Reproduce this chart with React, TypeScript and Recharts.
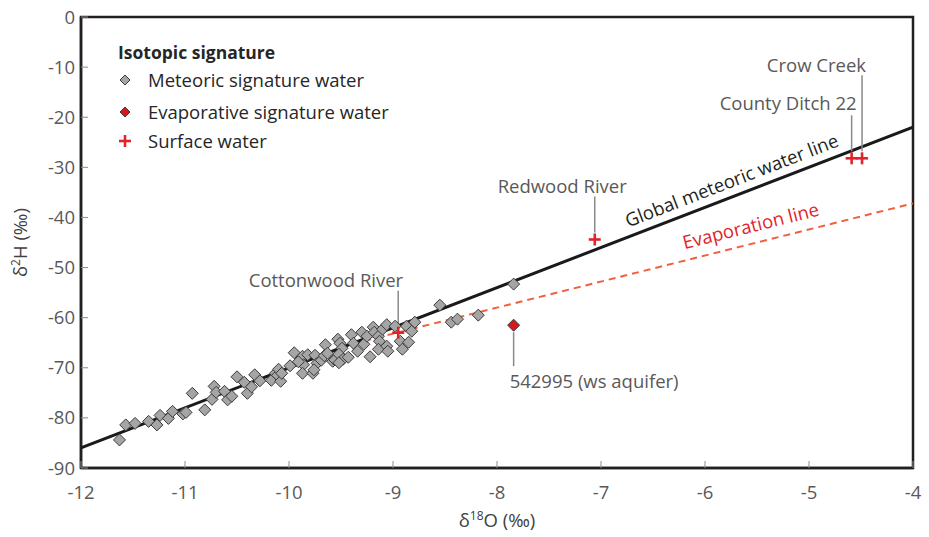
import React from "react";
import { ScatterChart, Scatter, XAxis, YAxis, ReferenceArea } from "recharts";

const FONT = '"Open Sans", "Noto Sans", sans-serif';
const TEXT_GRAY = "#595959";
const RED = "#e1232a";

// wells with a meteoric signature: δ18O and δ2H (‰)
const meteoricO18 = [
  -11.63, -11.57, -11.48, -11.35, -11.27, -11.24, -11.16, -11.12, -11.02, -10.99,
  -10.93, -10.81, -10.74, -10.72, -10.7, -10.62, -10.59, -10.55, -10.5, -10.43,
  -10.4, -10.36, -10.33, -10.28, -10.17, -10.13, -10.11, -10.08, -10.1, -10.07,
  -9.99, -9.95, -9.87, -9.86, -9.87, -9.82, -9.77, -9.75, -9.73, -9.69,
  -9.65, -9.66, -9.63, -9.58, -9.56, -9.53, -9.51, -9.49, -9.52, -9.48,
  -9.43, -9.4, -9.38, -9.34, -9.3, -9.28, -9.25, -9.22, -9.19, -9.18,
  -9.14, -9.13, -9.1, -9.14, -9.06, -9.06, -9.05, -8.98, -8.93, -8.91,
  -8.87, -8.85, -8.82, -8.79, -8.55, -7.84, -8.44, -8.38, -8.18, -9.91,
  -9.76, -9.52,
];
const meteoricH2 = [
  -84.4, -81.4, -81.1, -80.7, -81.4, -79.5, -80.1, -78.7, -79.2, -78.9,
  -75.1, -78.4, -76.3, -73.7, -74.9, -74.7, -76.4, -75.7, -71.8, -72.9,
  -75.1, -73.8, -71.4, -72.6, -72.5, -71.1, -71.5, -72.7, -70.3, -71.1,
  -69.6, -67.0, -67.7, -69.4, -71.1, -67.4, -71.1, -67.5, -69.1, -68.5,
  -65.4, -67.6, -67.1, -68.7, -68.4, -64.3, -65.1, -66.1, -67.3, -68.3,
  -67.9, -63.4, -65.1, -66.7, -62.9, -65.3, -63.7, -67.8, -61.9, -62.9,
  -63.7, -64.7, -62.3, -66.3, -61.4, -65.7, -66.7, -61.7, -64.7, -66.3,
  -61.7, -64.9, -62.7, -60.9, -57.5, -53.3, -60.9, -60.3, -59.5, -68.8,
  -70.4, -69.0,
];

// well with an evaporative signature
const evaporativeNames = ["542995 (ws aquifer)"];
const evaporativeO18 = [-7.84];
const evaporativeH2 = [-61.5];

// surface water samples
const surfaceNames = ["Cottonwood River", "Redwood River", "County Ditch 22", "Crow Creek"];
const surfaceO18 = [-8.95, -7.06, -4.59, -4.49];
const surfaceH2 = [-63.0, -44.4, -28.2, -28.2];

// reference lines (end points)
const gmwlO18 = [-12, -4];
const gmwlH2 = [-86, -22];
const evapO18 = [-9.5, -4];
const evapH2 = [-65.8, -37.2];

const xTicks = [-12, -11, -10, -9, -8, -7, -6, -5, -4];
const yTicks = [0, -10, -20, -30, -40, -50, -60, -70, -80, -90];

const toPoints = (xs: number[], ys: number[], names?: string[]) =>
  xs.map((x, i) => ({ x, y: ys[i], name: names ? names[i] : "" }));

const meteoric = toPoints(meteoricO18, meteoricH2);
const evaporative = toPoints(evaporativeO18, evaporativeH2, evaporativeNames);
const surface = toPoints(surfaceO18, surfaceH2, surfaceNames);
const gmwl = toPoints(gmwlO18, gmwlH2);
const evap = toPoints(evapO18, evapH2);

// point on a two-point line at a given δ18O (used to place the line captions)
const onLine = (xs: number[], ys: number[], x: number) =>
  ys[0] + ((ys[1] - ys[0]) * (x - xs[0])) / (xs[1] - xs[0]);

const lineNotes = [
  { x: -5.69, y: onLine(gmwlO18, gmwlH2, -5.69), name: "Global meteoric water line" },
  { x: -5.52, y: onLine(evapO18, evapH2, -5.52), name: "Evaporation line" },
];

// how each callout sits relative to its point (pixels)
const callouts: Record<string, { dx: number; from: number; to: number; base: number; anchor: string }> = {
  "Cottonwood River": { dx: 5, from: -8, to: -42, base: -46, anchor: "end" },
  "Redwood River": { dx: 32, from: -7, to: -43, base: -46, anchor: "end" },
  "County Ditch 22": { dx: 5, from: -7, to: -43, base: -48, anchor: "end" },
  "Crow Creek": { dx: 4, from: -7, to: -83, base: -86, anchor: "end" },
  "542995 (ws aquifer)": { dx: -4, from: 7, to: 41, base: 63, anchor: "start" },
};

const noteStyle: Record<string, { angle: number; fill: string; lift: number }> = {
  "Global meteoric water line": { angle: 21.1, fill: "#231f20", lift: 9 },
  "Evaporation line": { angle: 14.1, fill: RED, lift: 11 },
};

const Nothing = () => <g />;

const diamond = (fill: string, r: number) => (props: any) => {
  const { cx, cy } = props;
  return (
    <path
      d={`M${cx},${cy - r}L${cx + r},${cy}L${cx},${cy + r}L${cx - r},${cy}Z`}
      fill={fill}
      stroke="#3a3a3a"
      strokeWidth={1}
    />
  );
};

const Plus = (props: any) => {
  const { cx, cy } = props;
  return (
    <g stroke={RED} strokeWidth={2.6}>
      <line x1={cx - 6} x2={cx + 6} y1={cy} y2={cy} />
      <line x1={cx} x2={cx} y1={cy - 6} y2={cy + 6} />
    </g>
  );
};

const Callout = (props: any) => {
  const { cx, cy, payload } = props;
  const c = callouts[payload.name];
  if (!c) return <g />;
  return (
    <g>
      <line x1={cx} x2={cx} y1={cy + c.from} y2={cy + c.to} stroke="#8a8a8a" strokeWidth={1.5} />
      <text
        x={cx + c.dx}
        y={cy + c.base}
        textAnchor={c.anchor as any}
        fill={TEXT_GRAY}
        fontSize={18.5}
        fontFamily={FONT}
      >
        {payload.name}
      </text>
    </g>
  );
};

const LineNote = (props: any) => {
  const { cx, cy, payload } = props;
  const s = noteStyle[payload.name];
  return (
    <text
      transform={`translate(${cx},${cy}) rotate(${-s.angle})`}
      x={0}
      y={-s.lift}
      textAnchor="middle"
      fill={s.fill}
      fontSize={18.5}
      fontFamily={FONT}
    >
      {payload.name}
    </text>
  );
};

const XTick = (props: any) => {
  const { x, y, payload } = props;
  return (
    <g>
      <line x1={x} x2={x} y1={y - 18} y2={y - 25} stroke="#8c8c8c" strokeWidth={1} />
      <text x={x} y={y} dy="0.71em" textAnchor="middle" fill={TEXT_GRAY} fontSize={18.5} fontFamily={FONT}>
        {payload.value}
      </text>
    </g>
  );
};

const YTick = (props: any) => {
  const { x, y, payload } = props;
  return (
    <g>
      <line x1={x + 6} x2={x + 13} y1={y} y2={y} stroke="#8c8c8c" strokeWidth={1} />
      <text x={x} y={y} dy="0.355em" textAnchor="end" fill={TEXT_GRAY} fontSize={18.5} fontFamily={FONT}>
        {payload.value}
      </text>
    </g>
  );
};

const YTitle = (props: any) => {
  const vb = props.viewBox || { x: 21, y: 17, width: 60, height: 451 };
  const x = vb.x + 6;
  const y = vb.y + vb.height / 2;
  return (
    <text
      x={x}
      y={y}
      transform={`rotate(-90 ${x} ${y})`}
      textAnchor="middle"
      fill="#404040"
      fontSize={18.5}
      fontFamily={FONT}
    >
      <tspan>δ</tspan>
      <tspan dy={-7} fontSize={12}>2</tspan>
      <tspan dy={7}>H (‰)</tspan>
    </text>
  );
};

const XTitle = (props: any) => {
  const vb = props.viewBox || { x: 81, y: 468, width: 832, height: 40 };
  const x = vb.x + vb.width / 2;
  const y = vb.y + 59;
  return (
    <text x={x} y={y} textAnchor="middle" fill="#404040" fontSize={18.5} fontFamily={FONT}>
      <tspan>δ</tspan>
      <tspan dy={-7} fontSize={12}>18</tspan>
      <tspan dy={7}>O (‰)</tspan>
    </text>
  );
};

const LegendIcon = ({ kind }: { kind: string }) => (
  <svg width={16} height={16} style={{ position: "absolute", left: -8, top: -8 }}>
    {kind === "plus" ? (
      <g stroke={RED} strokeWidth={2.6}>
        <line x1={2} x2={14} y1={8} y2={8} />
        <line x1={8} x2={8} y1={2} y2={14} />
      </g>
    ) : (
      <path
        d="M8,3L13,8L8,13L3,8Z"
        fill={kind === "red" ? "#d7191f" : "#a5a5a5"}
        stroke="#3a3a3a"
        strokeWidth={1}
      />
    )}
  </svg>
);

const legendRows = [
  { label: "Meteoric signature water", kind: "gray", top: 80 },
  { label: "Evaporative signature water", kind: "red", top: 112 },
  { label: "Surface water", kind: "plus", top: 141 },
];

const App = () => {
  return (
    <div style={{ position: "absolute", left: 0, top: 0, width: 929, height: 537, background: "#fff" }}>
      <ScatterChart width={929} height={537} margin={{ top: 17, right: 16, bottom: 29, left: 21 }}>
        <XAxis
          type="number"
          dataKey="x"
          domain={[-12, -4]}
          ticks={xTicks}
          interval={0}
          allowDataOverflow
          height={40}
          tickSize={0}
          tickMargin={18}
          tick={XTick}
          axisLine={{ stroke: "#231f20", strokeWidth: 2.5 }}
          label={<XTitle />}
        />
        <YAxis
          type="number"
          dataKey="y"
          domain={[-90, 0]}
          ticks={yTicks}
          interval={0}
          allowDataOverflow
          width={60}
          tickSize={0}
          tickMargin={6}
          tick={YTick}
          axisLine={{ stroke: "#231f20", strokeWidth: 2.5 }}
          label={<YTitle />}
        />
        <ReferenceArea x1={-12} x2={-4} y1={-90} y2={0} fill="none" stroke="#231f20" strokeWidth={2.5} />
        <Scatter
          data={evap}
          shape={Nothing}
          line={{ stroke: "#f0603f", strokeWidth: 2, strokeDasharray: "7 5" }}
          isAnimationActive={false}
        />
        <Scatter
          data={gmwl}
          shape={Nothing}
          line={{ stroke: "#1a1a1a", strokeWidth: 3 }}
          isAnimationActive={false}
        />
        <Scatter data={lineNotes} shape={LineNote} isAnimationActive={false} />
        <Scatter data={surface} shape={Callout} isAnimationActive={false} />
        <Scatter data={evaporative} shape={Callout} isAnimationActive={false} />
        <Scatter data={meteoric} shape={diamond("#a5a5a5", 6)} isAnimationActive={false} />
        <Scatter data={evaporative} shape={diamond("#d7191f", 6)} isAnimationActive={false} />
        <Scatter data={surface} shape={Plus} isAnimationActive={false} />
      </ScatterChart>

      <div style={{ position: "absolute", left: 0, top: 0, fontFamily: FONT, color: "#262626" }}>
        <div
          style={{
            position: "absolute",
            left: 118,
            top: 40,
            lineHeight: "24px",
            fontSize: 17.5,
            fontWeight: 700,
            whiteSpace: "nowrap",
          }}
        >
          Isotopic signature
        </div>
        {legendRows.map((r) => (
          <div key={r.label}>
            <div style={{ position: "absolute", left: 125, top: r.top }}>
              <LegendIcon kind={r.kind} />
            </div>
            <div
              style={{
                position: "absolute",
                left: 148,
                top: r.top - 12,
                lineHeight: "24px",
                fontSize: 18.5,
                whiteSpace: "nowrap",
              }}
            >
              {r.label}
            </div>
          </div>
        ))}
      </div>
    </div>
  );
};

export default App;
